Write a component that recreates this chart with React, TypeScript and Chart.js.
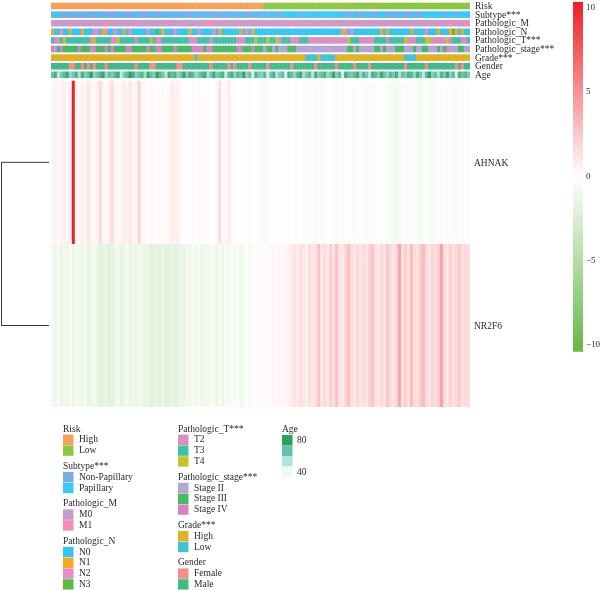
import React, { useEffect, useRef } from "react";
import { Chart, registerables } from "chart.js";

Chart.register(...registerables);

// ---------------- DATA ----------------
const riskCodes =
  "HHHHHHHHHH HHHHHHHHHH HHHHHHHHHH HHHHHHHHHH HHHHHHHHHH HHHHHHHHHH HHHHHHHHHH HLLLLLLLLL LLLLLLLLLL LLLLLLLLLL LLLLLLLLLL LLLLLLLLLL LLLLLLLLLL LLLLLLLLLL";
const subtypeCodes =
  "NPPNNNNNNN NNNNNNPNNN NNNPNNNNPN NNNPNNNPNN PNNPNNNNPN NNPNNNNNNN PNNPNNNNPN NPNPPNNPPP PPPPNPPPPP PPPPPPPNPN NPNNPNPNNP PPNNPNNPNN NPNNPPPPPP PNPPPNPPPP";
const mCodes =
  "0000000000 0000000010 0000000000 0000000000 0000000000 0011000000 0000000000 0000000000 1000000000 0000000000 0000000000 0000000000 0000000000 0001000010";
const nCodes =
  "1002001000 1000220120 0200102000 0020030100 0200001002 0000201000 0001020100 0000000000 0000000000 0000000120 2000000000 1010000000 1000020001 0001310100";
const tCodes =
  "3223433333 3332433333 2243333323 3334322333 3333332223 3332333333 3322233343 3343342333 2223332222 2222222224 3332222233 3323333342 2233344222 2242333223";
const stageCodes =
  "4234333334 3334433343 4333344333 3343344333 3433333444 4344333333 3344333433 3233232223 3322222222 2222222223 3232222233 2322233322 2322332223 2342223322";
const gradeCodes =
  "HHHHHHHHHH HHHHHHHHHH HHHHHHHHHH HHHHHHHHHH HHHHHHHHLH HHHHHHHHHH HHHHHHHHHH HHHHHHHHHH HHHHHLLLLH LLLLLHHHHH HHHHHHHHHH HHHHHHHHLL LLHHHHHHHH HHHHHHHHHH";
const genderCodes =
  "MMMMMMFFMM FMFMFMMMFM MMMMMMMMFM MMMFFMMMMM MMFFMMMMMM MMMFMMMMMF MFMMMMFMMM MMFMMMMMMM FMMMMMMMFM MMMMMFMMMM MFMMMMFMMM MMMMMMMMFM MMMMMFMMMM MMMMMFMFMM";

const ages = [
  62, 71, 45, 58, 66, 74, 53, 60, 68, 49,
  72, 57, 63, 80, 55, 61, 69, 76, 52, 64,
  58, 67, 73, 44, 59, 65, 78, 70, 56, 62,
  68, 51, 74, 63, 57, 81, 66, 60, 47, 72,
  64, 69, 55, 62, 77, 58, 71, 66, 53, 60,
  67, 73, 49, 61, 75, 58, 64, 70, 43, 65,
  72, 56, 68, 61, 79, 54, 63, 38, 69, 60,
  57, 66, 41, 62, 71, 48, 59, 65, 36, 70,
  63, 55, 68, 74, 50, 61, 67, 45, 72, 58,
  64, 69, 53, 60, 76, 57, 66, 40, 71, 62,
  59, 65, 73, 52, 68, 61, 46, 70, 64, 57,
  75, 62, 55, 67, 60, 71, 49, 63, 58, 69,
  66, 54, 72, 61, 44, 65, 78, 57, 63, 50,
  68, 60, 74, 56, 64, 39, 70, 62, 67, 59,
];

const ahnakValues = [
  0.4, 0.6, 0.3, 0.5, 0.8, 0.4, 0.6, 10.5, 0.5, 0.3,
  0.7, 0.4, 1.2, 0.5, 0.3, 0.6, 1.8, 0.4, 0.2, 0.8,
  1.6, 0.5, 0.3, 0.4, 0.9, 0.5, 1.2, 0.3, 0.6, 2.0,
  0.3, 0.2, 0.1, 0.3, 0.2, 0.1, 0.2, 0.3, 0.2, 0.4,
  0.9, 0.6, 0.8, 0.2, 0.1, 0.2, 0.1, 0.3, 0.1, 0.2,
  0.1, 0.2, 0.1, 0.0, 0.1, 0.3, 1.6, 0.2, 0.4, 0.9,
  0.3, 0.1, 0.0, -0.1, 0.1, 0.0, 0.2, -0.1, 0.0, -0.2,
  -0.4, -0.5, -0.3, -0.1, 0.0, -0.2, -0.1, -0.3, -0.2, -0.4,
  -0.1, -0.2, -0.3, -0.1, -0.2, -0.4, -0.2, -0.5, -0.6, -0.4,
  -0.5, -0.3, -0.2, -0.1, -0.3, -0.6, -0.2, -0.4, -0.1, -0.3,
  -0.2, -0.4, -0.1, -0.3, -0.2, -0.5, -0.3, -0.2, -0.4, -0.1,
  -0.3, -0.2, -0.4, -0.5, -0.8, -0.9, -0.6, -0.3, -0.2, -0.4,
  -0.2, -0.3, -0.5, -0.9, -0.4, -0.2, -0.6, -0.7, -0.3, -0.2,
  -0.4, -0.1, -0.3, -0.2, -0.5, -0.3, -0.2, -0.4, -0.1, -0.3,
];

const nr2f6Values = [
  -0.8, -1.2, -0.5, -1.4, -0.9, -1.1, -0.6, -1.3, -0.8, -1.0,
  -1.2, -0.7, -1.5, -1.0, -0.8, -1.3, -1.9, -1.6, -1.4, -2.0,
  -1.7, -1.1, -0.9, -1.4, -1.2, -0.7, -1.5, -1.0, -1.3, -0.8,
  -1.1, -1.6, -1.4, -2.0, -1.7, -1.5, -1.9, -1.3, -2.1, -1.8,
  -1.5, -1.9, -1.6, -1.2, -1.4, -0.9, -1.1, -0.7, -1.0, -0.6,
  -1.2, -0.8, -1.0, -0.5, -0.9, -1.3, -0.7, -1.1, -0.6, -0.9,
  -0.5, -0.8, -0.4, -1.0, -0.6, -0.3, -0.7, -0.4, -0.2, -0.5,
  0.1, 0.2, 0.3, 0.2, 0.4, 0.3, 0.5, 0.4, 0.6, 0.5,
  1.0, 1.3, 0.9, 1.5, 1.2, 0.8, 1.6, 1.1, 1.4, 2.8,
  1.2, 1.7, 1.0, 2.2, 1.4, 2.8, 1.3, 1.1, 1.9, 2.9,
  1.5, 1.2, 1.8, 1.0, 1.6, 1.3, 2.0, 2.6, 1.4, 1.1,
  1.7, 1.3, 2.5, 1.6, 1.2, 1.9, 4.0, 1.5, 2.2, 1.3,
  3.0, 1.6, 1.4, 2.3, 3.2, 1.8, 1.2, 1.9, 1.5, 2.1,
  4.3, 1.6, 1.2, 2.0, 1.4, 1.7, 2.4, 1.3, 1.8, 1.5,
];

const geneNames = ["AHNAK", "NR2F6"];
const dendrogramMergeHeight = [1];
const colorbarTicks = [10, 5, 0, -5, -10];
const colorbarLimits = [-10.4, 10.33];
const ageLegendTicks = [80, 40];
const ageRange = [32, 78];

// ---------------- STYLES ----------------
const FONT = '"Liberation Serif", "DejaVu Serif", serif';
const TEXT = "#2a2a2a";

const riskPal: Record<string, string> = { H: "#f5a05a", L: "#8dc63f" };
const subtypePal: Record<string, string> = { N: "#74aee6", P: "#3cc8f4" };
const mPal: Record<string, string> = { "0": "#c99acb", "1": "#f48bb4" };
const nPal: Record<string, string> = { "0": "#35c5f2", "1": "#f7a823", "2": "#e98ac3", "3": "#5cb946" };
const tPal: Record<string, string> = { "2": "#d98dc4", "3": "#43bfa7", "4": "#c5c22c" };
const stagePal: Record<string, string> = { "2": "#b3a4d6", "3": "#47b865", "4": "#d684c2" };
const gradePal: Record<string, string> = { H: "#e0b025", L: "#45c0d3" };
const genderPal: Record<string, string> = { F: "#f68e84", M: "#45b88a" };
const ageStops = ["#edf8fb", "#b2e2e2", "#66c2a4", "#2ca25f"];

const HEAT_RED = [238, 30, 36];
const HEAT_GREEN = [100, 184, 70];

const codes = (s: string) => s.replace(/\s+/g, "").split("");

function hexToRgb(h: string) {
  const n = parseInt(h.slice(1), 16);
  return [(n >> 16) & 255, (n >> 8) & 255, n & 255];
}
function mix(a: number[], b: number[], t: number) {
  const r = a.map((v, i) => Math.round(v + (b[i] - v) * t));
  return `rgb(${r[0]},${r[1]},${r[2]})`;
}
function heatColor(v: number) {
  if (v >= 0) return mix([255, 255, 255], HEAT_RED, Math.min(v / colorbarLimits[1], 1));
  return mix([255, 255, 255], HEAT_GREEN, Math.min(v / colorbarLimits[0], 1));
}
function ageColor(a: number) {
  const t = Math.max(0, Math.min(1, (a - ageRange[0]) / (ageRange[1] - ageRange[0])));
  const seg = t * (ageStops.length - 1);
  const i = Math.min(Math.floor(seg), ageStops.length - 2);
  return mix(hexToRgb(ageStops[i]), hexToRgb(ageStops[i + 1]), seg - i);
}

const annotationRows = [
  { name: "Risk", colors: codes(riskCodes).map((c) => riskPal[c]) },
  { name: "Subtype***", colors: codes(subtypeCodes).map((c) => subtypePal[c]) },
  { name: "Pathologic_M", colors: codes(mCodes).map((c) => mPal[c]) },
  { name: "Pathologic_N", colors: codes(nCodes).map((c) => nPal[c]) },
  { name: "Pathologic_T***", colors: codes(tCodes).map((c) => tPal[c]) },
  { name: "Pathologic_stage***", colors: codes(stageCodes).map((c) => stagePal[c]) },
  { name: "Grade***", colors: codes(gradeCodes).map((c) => gradePal[c]) },
  { name: "Gender", colors: codes(genderCodes).map((c) => genderPal[c]) },
  { name: "Age", colors: ages.map(ageColor) },
];

const legendColumns = [
  {
    x: 63,
    groups: [
      { title: "Risk", items: [["High", riskPal.H], ["Low", riskPal.L]] },
      { title: "Subtype***", items: [["Non-Papillary", subtypePal.N], ["Papillary", subtypePal.P]] },
      { title: "Pathologic_M", items: [["M0", mPal["0"]], ["M1", mPal["1"]]] },
      {
        title: "Pathologic_N",
        items: [["N0", nPal["0"]], ["N1", nPal["1"]], ["N2", nPal["2"]], ["N3", nPal["3"]]],
      },
    ],
  },
  {
    x: 178,
    groups: [
      { title: "Pathologic_T***", items: [["T2", tPal["2"]], ["T3", tPal["3"]], ["T4", tPal["4"]]] },
      {
        title: "Pathologic_stage***",
        items: [["Stage II", stagePal["2"]], ["Stage III", stagePal["3"]], ["Stage IV", stagePal["4"]]],
      },
      { title: "Grade***", items: [["High", gradePal.H], ["Low", gradePal.L]] },
      { title: "Gender", items: [["Female", genderPal.F], ["Male", genderPal.M]] },
    ],
  },
];

// ---------------- LAYOUT (pixel geometry on the y scale) ----------------
const annoTop = (k: number) => 2.7 + 8.6 * k;
const ANNO_H = 6.6;
const heatBands = [
  [80.7, 244],
  [244, 407],
];
// dendrogram axis: leaves at x=0 -> pixel 49, merge height 1 -> pixel 1.5
const DENDRO_PX_PER_UNIT = 47.5;
const AREA_LEFT = 51;
const AREA_RIGHT = 470;
const LEAF_PX = 49;

export default function App() {
  const ref = useRef<HTMLCanvasElement>(null);

  useEffect(() => {
    document.body.style.margin = "0";
    const canvas = ref.current!;
    const labels = ages.map((_, i) => `S${i + 1}`);

    const datasets: any[] = [];
    annotationRows.forEach((row, k) => {
      const y0 = annoTop(k);
      datasets.push({
        type: "bar",
        label: row.name,
        data: labels.map(() => [y0, y0 + ANNO_H]),
        backgroundColor: row.colors,
        order: 1,
      });
    });
    [ahnakValues, nr2f6Values].forEach((vals, g) => {
      datasets.push({
        type: "bar",
        label: geneNames[g],
        data: vals.map(() => [heatBands[g][0], heatBands[g][1]]),
        backgroundColor: vals.map(heatColor),
        order: 1,
      });
    });
    const cA = (heatBands[0][0] + heatBands[0][1]) / 2;
    const cB = (heatBands[1][0] + heatBands[1][1]) / 2;
    const h = dendrogramMergeHeight[0];
    datasets.push({
      type: "line",
      label: "dendrogram",
      xAxisID: "xd",
      yAxisID: "y",
      data: [
        { x: 0, y: cA },
        { x: -h, y: cA },
        { x: -h, y: cB },
        { x: 0, y: cB },
      ],
      borderColor: "#3a3a3a",
      borderWidth: 1,
      pointRadius: 0,
      tension: 0,
      clip: false,
      order: -1,
    });

    const overlayPlugin = {
      id: "overlay",
      afterDraw(chart: any) {
        const ctx = chart.ctx as CanvasRenderingContext2D;
        const ys = chart.scales.y;
        const cb = chart.scales.cb;
        const area = chart.chartArea;
        ctx.save();
        ctx.fillStyle = TEXT;
        ctx.textBaseline = "middle";
        ctx.textAlign = "left";
        ctx.font = `9.5px ${FONT}`;
        annotationRows.forEach((row, k) => {
          ctx.fillText(row.name, area.right + 5, ys.getPixelForValue(annoTop(k) + ANNO_H / 2) + 0.5);
        });
        geneNames.forEach((g, i) => {
          ctx.fillText(g, area.right + 4, ys.getPixelForValue((heatBands[i][0] + heatBands[i][1]) / 2) + 1);
        });

        // colour bar
        const top = cb.getPixelForValue(colorbarLimits[1]);
        const bot = cb.getPixelForValue(colorbarLimits[0]);
        const zero = cb.getPixelForValue(0);
        const cbx = 573;
        const cbw = 10;
        const grad = ctx.createLinearGradient(0, top, 0, bot);
        grad.addColorStop(0, heatColor(colorbarLimits[1]));
        grad.addColorStop((zero - top) / (bot - top), "#ffffff");
        grad.addColorStop(1, heatColor(colorbarLimits[0]));
        ctx.fillStyle = grad;
        ctx.fillRect(cbx, top, cbw, bot - top);
        ctx.fillStyle = TEXT;
        ctx.font = `9px ${FONT}`;
        colorbarTicks.forEach((t) => {
          const s = t < 0 ? `\u2212${Math.abs(t)}` : `${t}`;
          ctx.fillText(s, cbx + cbw + 3, cb.getPixelForValue(t));
        });

        // legends
        ctx.font = `9.5px ${FONT}`;
        legendColumns.forEach((col) => {
          let y = 429;
          col.groups.forEach((g) => {
            ctx.fillStyle = TEXT;
            ctx.fillText(g.title, col.x, y);
            g.items.forEach(([lab, color]) => {
              y += 10.8;
              ctx.fillStyle = color;
              ctx.fillRect(col.x, y - 5.2, 10.5, 10.4);
              ctx.fillStyle = TEXT;
              ctx.fillText(lab, col.x + 16, y);
            });
            y += 15.8;
          });
        });
        const ax = 282;
        ctx.fillStyle = TEXT;
        ctx.fillText("Age", ax, 429);
        const boxes = [...ageStops].reverse();
        boxes.forEach((c, i) => {
          ctx.fillStyle = c;
          ctx.fillRect(ax, 435 + i * 10.5, 10.5, 10.5);
        });
        ctx.fillStyle = TEXT;
        ctx.fillText(`${ageLegendTicks[0]}`, ax + 15, 440.5);
        ctx.fillText(`${ageLegendTicks[1]}`, ax + 15, 472);
        ctx.restore();
      },
    };

    const cbPxPerUnit = 16.875;
    const cbMax = 10 + 7.5 / cbPxPerUnit;
    const cbMin = cbMax - 407 / cbPxPerUnit;
    const xdMin = (AREA_LEFT - LEAF_PX) / DENDRO_PX_PER_UNIT;
    const xdMax = (AREA_RIGHT - LEAF_PX) / DENDRO_PX_PER_UNIT;

    const chart = new Chart(canvas, {
      type: "bar",
      data: { labels, datasets },
      options: {
        responsive: false,
        animation: false,
        events: [],
        layout: { padding: { left: AREA_LEFT, right: 600 - AREA_RIGHT, top: 0, bottom: 183 } },
        datasets: {
          bar: {
            barPercentage: 1.12,
            categoryPercentage: 1,
            grouped: false,
            borderWidth: 0,
            inflateAmount: 0,
          } as any,
        },
        plugins: { legend: { display: false }, tooltip: { enabled: false } },
        scales: {
          x: { type: "category", display: false, offset: true, grid: { display: false } },
          xd: {
            type: "linear",
            display: false,
            offset: false,
            beginAtZero: false,
            bounds: "data",
            grace: 0,
            min: xdMin,
            max: xdMax,
            grid: { offset: false },
            afterDataLimits: (s: any) => {
              s.min = xdMin;
              s.max = xdMax;
            },
          },
          y: { type: "linear", display: false, min: 0, max: 407, reverse: true },
          cb: { type: "linear", display: false, min: cbMin, max: cbMax, position: "right" },
        },
      } as any,
      plugins: [overlayPlugin],
    });
    return () => chart.destroy();
  }, []);

  return (
    <div style={{ width: 600, height: 590, background: "#fff" }}>
      <canvas ref={ref} width={600} height={590} style={{ display: "block" }} />
    </div>
  );
}
